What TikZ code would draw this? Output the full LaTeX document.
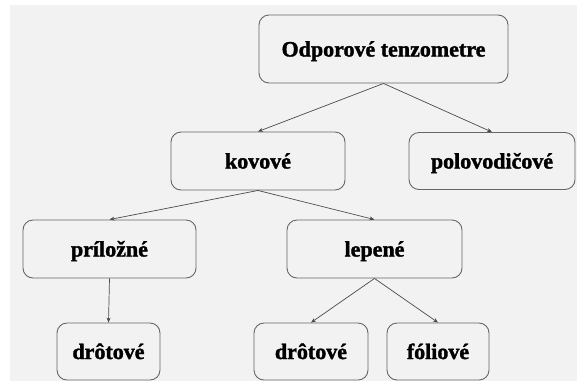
\documentclass[tikz,border=0pt]{standalone}
\usepackage{fontspec}
\setmainfont{Liberation Serif}[BoldFeatures={FakeBold=1.6}]
\usetikzlibrary{arrows.meta}
\definecolor{bg}{HTML}{F2F2F2}
\definecolor{boxline}{HTML}{666666}
\definecolor{arrowline}{HTML}{4A4A4A}
\tikzset{
  box/.style={draw=boxline, line width=0.9pt, rounded corners=10pt, fill=bg,
    font=\fontsize{22}{24}\selectfont\bfseries, text=black, inner sep=0pt,
    text height=15pt, text depth=0pt},
  conn/.style={draw=arrowline, line width=0.7pt, -{Stealth[length=5pt,width=4pt]}}
}
\begin{document}
\begin{tikzpicture}[x=1pt,y=-1pt]
\useasboundingbox (0,0) rectangle (577,381);
\fill[white] (0,0) rectangle (577,381);
\fill[bg] (10,5) rectangle (577,381);
\node[box, minimum width=249pt, minimum height=68pt] (top) at (383.5,49) {Odporové tenzometre};
\node[box, minimum width=174pt, minimum height=58pt] (kov) at (258,161) {kovové};
\node[box, minimum width=166pt, minimum height=57pt] (pol) at (492,161) {polovodičové};
\node[box, minimum width=173pt, minimum height=58pt] (pri) at (109.5,249) {príložné};
\node[box, minimum width=175pt, minimum height=58pt] (lep) at (374.5,249) {lepené};
\node[box, minimum width=103pt, minimum height=57pt] (d1) at (108.5,351.5) {drôtové};
\node[box, minimum width=114pt, minimum height=57pt] (d2) at (311,351.5) {drôtové};
\node[box, minimum width=102pt, minimum height=57pt] (fol) at (438,351.5) {fóliové};
\draw[conn] (top.south) -- (kov.north);
\draw[conn] (top.south) -- (pol.north);
\draw[conn] (kov.south) -- (pri.north);
\draw[conn] (kov.south) -- (lep.north);
\draw[conn] (pri.south) -- (d1.north);
\draw[conn] (lep.south) -- (d2.north);
\draw[conn] (lep.south) -- (fol.north);
\end{tikzpicture}
\end{document}
